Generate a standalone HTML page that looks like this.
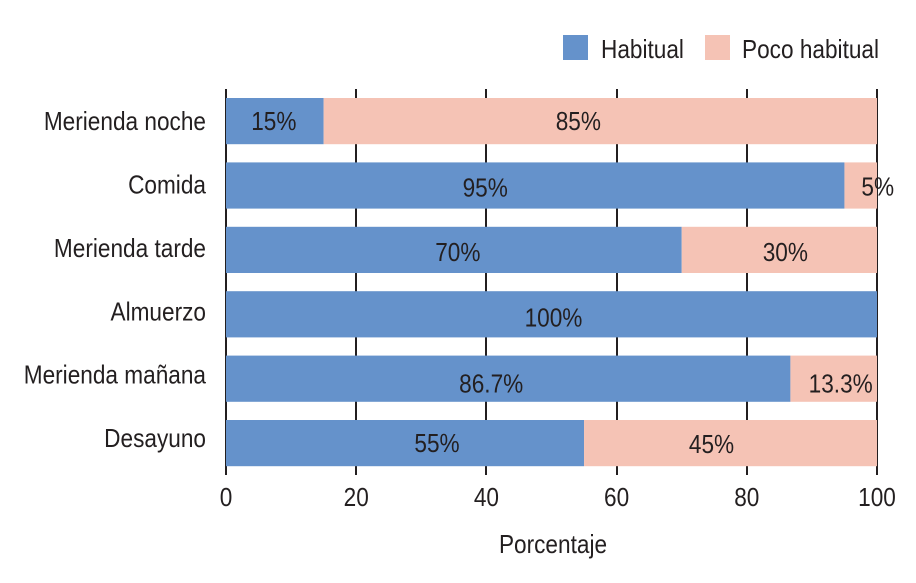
<!DOCTYPE html>
<html lang="es">
<head>
<meta charset="utf-8">
<title>Habitual vs poco habitual</title>
<style>
html,body{margin:0;padding:0;background:#fff;width:916px;height:583px;overflow:hidden}
svg{display:block}
text{font-family:"Liberation Sans",sans-serif;font-size:26px;fill:#231f20}
</style>
</head>
<body>
<svg id="chart" width="916" height="583" viewBox="0 0 916 583" xmlns="http://www.w3.org/2000/svg">
  <rect x="0" y="0" width="916" height="583" fill="#fff"/>
  <g id="ticks"></g>
  <g id="bars"></g>
  <g id="labels"></g>
  <g>
    <rect x="563" y="35" width="25" height="25" fill="#6592cb"/>
    <text transform="translate(601,58) scale(.87,1)">Habitual</text>
    <rect x="705" y="35" width="25" height="25" fill="#f5c3b5"/>
    <text transform="translate(742,58) scale(.87,1)">Poco habitual</text>
  </g>
  <text text-anchor="middle" transform="translate(553,553) scale(.87,1)">Porcentaje</text>
</svg>
<script>
const categories = ['Merienda noche', 'Comida', 'Merienda tarde', 'Almuerzo', 'Merienda mañana', 'Desayuno'];
const habitual = [15, 95, 70, 100, 86.7, 55];
const pocoHabitual = [85, 5, 30, 0, 13.3, 45];
const habitualText = ['15%', '95%', '70%', '100%', '86.7%', '55%'];
const pocoText = ['85%', '5%', '30%', '', '13.3%', '45%'];
const xTicks = [0, 20, 40, 60, 80, 100];

const NS = 'http://www.w3.org/2000/svg';
const X0 = 226, X1 = 877, TOP = 98, STEP = 64.4, BAR_H = 46.2, SX = 0.87;
function xScale(v) { return X0 + (v / 100) * (X1 - X0); }
function yScale(i) { return TOP + i * STEP; }
function make(tag, attrs) {
  const el = document.createElementNS(NS, tag);
  for (const k in attrs) el.setAttribute(k, attrs[k]);
  return el;
}
function makeText(str, x, y, anchor) {
  const t = make('text', { transform: 'translate(' + x + ',' + y + ') scale(' + SX + ',1)', 'text-anchor': anchor });
  t.textContent = str;
  return t;
}
/* hand-placed label nudges seen in the source figure (px from segment centre) */
const nudgeA = [[-1, 0], [-50, 2], [4, 2], [2, 3], [-17, 5], [32, 0]];
const nudgeB = [[-22, 0], [17, 1], [6, 2], [0, 0], [7, 5], [-19, 1]];

const ticksG = document.getElementById('ticks');
const barsG = document.getElementById('bars');
const labelsG = document.getElementById('labels');

xTicks.forEach(function (v) {
  const line = make('rect', { x: Math.round(xScale(v)) - 1, y: 89, width: 2, height: 386, fill: '#231f20' });
  
  
  ticksG.appendChild(line);
  const lab = makeText(String(v), xScale(v), 506, 'middle');
  
  
  labelsG.appendChild(lab);
});

categories.forEach(function (c, i) {
  const y = yScale(i);
  const a = habitual[i], b = pocoHabitual[i];
  const slug = c.toLowerCase().replace(/ñ/g, 'n').replace(/\s+/g, '-');

  const cat = makeText(c, 206, y + BAR_H / 2 + 9 - i, 'end');
  
  
  labelsG.appendChild(cat);

  const r1 = make('rect', { x: xScale(0), y: y, width: xScale(a) - xScale(0), height: BAR_H, fill: '#6592cb' });
  
  
  barsG.appendChild(r1);

  if (b > 0) {
    const r2 = make('rect', { x: xScale(a), y: y, width: xScale(a + b) - xScale(a), height: BAR_H, fill: '#f5c3b5' });
    
    
    barsG.appendChild(r2);
  }

  const t1 = makeText(habitualText[i], xScale(a / 2) + nudgeA[i][0], y + BAR_H / 2 + 9 + nudgeA[i][1], 'middle');
  
  
  labelsG.appendChild(t1);

  if (pocoText[i]) {
    const t2 = makeText(pocoText[i], xScale(a + b / 2) + nudgeB[i][0], y + BAR_H / 2 + 9 + nudgeB[i][1], 'middle');
    
    
    labelsG.appendChild(t2);
  }
});
</script>
</body>
</html>
